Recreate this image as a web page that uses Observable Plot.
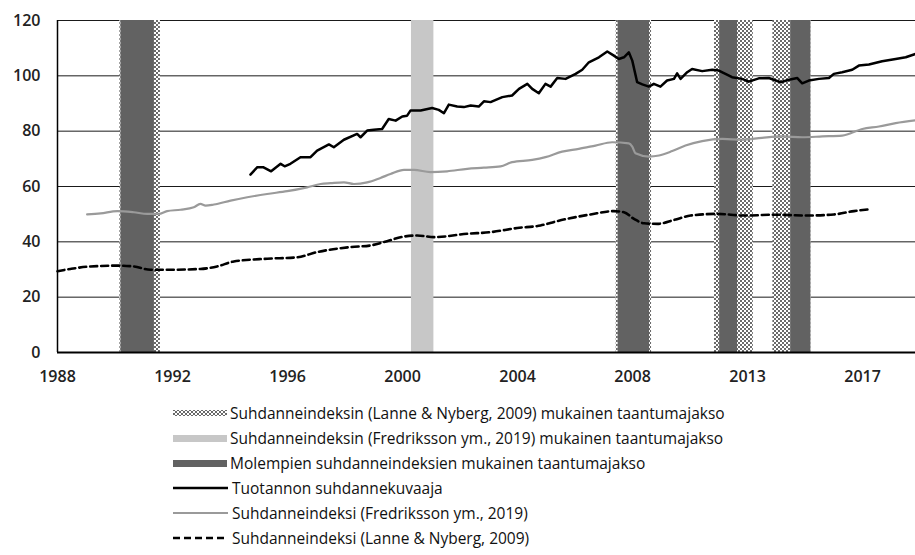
<!DOCTYPE html>
<html><head><meta charset="utf-8">
<script src="https://cdn.jsdelivr.net/npm/d3@7"></script>
<script src="https://cdn.jsdelivr.net/npm/@observablehq/plot@0.6"></script>
<style>
body{margin:0;background:#fff;font-family:"Open Sans",sans-serif;}
#chart{height:395px;}
#legend{position:relative;height:160px;}
.row{position:absolute;left:173px;display:flex;align-items:center;height:25px;font-size:15.5px;color:#111;white-space:nowrap;}
.row svg{display:block;}
</style></head><body>
<div id="chart"></div>
<div id="legend"></div>
<script>
// Tick positions and labels
const xTicks = [1988, 1992, 1996, 2000, 2004, 2008, 2012, 2016];
const xTickLabels = ["1988", "1992", "1996", "2000", "2004", "2008", "2013", "2017"];
const yTicks = [0, 20, 40, 60, 80, 100, 120];

// Recession periods (axis years)
const lanneStart = [1990.17, 2007.43, 2010.85, 2012.88];
const lanneEnd   = [1991.58, 2008.66, 2012.2, 2014.2];
const fredStart  = [1990.21, 2000.31, 2007.5, 2011.03, 2013.5];
const fredEnd    = [1991.37, 2001.09, 2008.59, 2011.65, 2014.2];

// Tuotannon suhdannekuvaaja
const outputYears = [1994.71,1994.95,1995.15,1995.43,1995.76,1995.9,1996.1,1996.45,1996.8,1997.03,1997.44,1997.61,1997.96,1998.42,1998.54,1998.77,1999.0,1999.29,1999.52,1999.76,1999.99,2000.16,2000.28,2000.63,2001.03,2001.26,2001.44,2001.61,2001.9,2002.13,2002.37,2002.65,2002.83,2003.06,2003.47,2003.81,2004.05,2004.34,2004.51,2004.74,2004.97,2005.15,2005.38,2005.67,2006.02,2006.25,2006.48,2006.83,2007.12,2007.35,2007.52,2007.7,2007.87,2007.99,2008.16,2008.34,2008.57,2008.74,2008.97,2009.2,2009.44,2009.55,2009.67,2009.9,2010.07,2010.42,2010.77,2011.0,2011.23,2011.46,2011.81,2012.04,2012.39,2012.74,2013.15,2013.44,2013.73,2013.9,2014.13,2014.48,2014.83,2015.0,2015.29,2015.64,2015.87,2016.22,2016.68,2017.15,2017.5,2017.84];
const outputValues = [64.3,67.0,67.0,65.5,68.2,67.3,68.2,70.6,70.6,73.0,75.2,74.2,76.9,79.0,77.8,80.2,80.5,80.8,84.4,83.8,85.3,85.6,87.5,87.5,88.4,87.7,86.5,89.6,88.9,88.7,89.3,88.9,90.8,90.5,92.3,92.9,95.3,97.1,95.3,93.7,97.1,96.1,99.2,98.9,100.7,102.2,104.9,106.7,108.8,107.3,106.1,106.7,108.5,105.5,97.7,96.9,96.1,97.1,96.1,98.3,98.9,100.9,98.9,101.3,102.5,101.7,102.2,101.9,100.7,99.5,98.9,97.9,99.1,99.2,97.7,98.6,99.2,97.3,98.3,98.9,99.2,100.7,101.3,102.2,103.7,104.1,105.3,106.1,106.7,107.9];

// Suhdanneindeksi (Fredriksson ym., 2019)
const fredYears = [1989.03,1989.5,1990.08,1990.65,1991.12,1991.52,1991.81,1992.28,1992.74,1992.97,1993.15,1993.44,1994.02,1994.6,1995.29,1995.99,1996.68,1997.15,1997.5,1997.96,1998.31,1998.77,1999.23,1999.58,2000.05,2000.4,2000.97,2001.55,2002.25,2002.83,2003.41,2003.81,2004.51,2004.97,2005.55,2006.13,2006.71,2007.29,2007.87,2007.99,2008.1,2008.57,2008.92,2009.38,2009.84,2010.42,2011.12,2011.81,2012.5,2013.21,2013.9,2014.6,2015.29,2015.99,2016.57,2017.15,2017.84];
const fredValues = [49.9,50.3,51.1,50.7,50.1,50.1,51.1,51.6,52.5,53.7,53.1,53.5,54.9,56.1,57.3,58.3,59.7,60.9,61.2,61.5,60.9,61.5,63.1,64.5,66.0,66.0,65.2,65.5,66.4,66.8,67.3,68.8,69.6,70.6,72.6,73.6,74.8,76.0,75.6,74.4,72.0,70.8,71.2,72.8,74.8,76.4,77.2,76.9,77.6,78.1,77.8,78.1,78.4,80.8,81.7,82.9,83.9];

// Suhdanneindeksi (Lanne & Nyberg, 2009)
const lanneYears = [1988.0,1988.45,1989.15,1990.08,1990.65,1991.23,1991.81,1992.97,1993.55,1994.13,1995.29,1996.33,1997.03,1998.19,1998.89,1999.35,2000.05,2000.51,2001.09,2002.25,2003.06,2003.99,2004.8,2005.38,2006.54,2007.35,2007.7,2008.05,2008.4,2008.86,2009.44,2010.02,2010.95,2011.88,2012.92,2014.08,2015.0,2015.7,2016.28];
const lanneValues = [29.4,30.2,31.1,31.4,31.1,29.9,29.9,30.2,31.1,32.9,33.9,34.4,36.3,38.1,38.7,39.9,41.9,42.3,41.7,42.9,43.5,45.0,45.9,47.5,49.9,51.1,50.7,48.3,46.7,46.5,47.9,49.5,50.1,49.5,49.8,49.5,49.9,51.1,51.8];

const legendLabels = [
  "Suhdanneindeksin (Lanne & Nyberg, 2009) mukainen taantumajakso",
  "Suhdanneindeksin (Fredriksson ym., 2019) mukainen taantumajakso",
  "Molempien suhdanneindeksien mukainen taantumajakso",
  "Tuotannon suhdannekuvaaja",
  "Suhdanneindeksi (Fredriksson ym., 2019)",
  "Suhdanneindeksi (Lanne & Nyberg, 2009)"
];

const toRows = (xs, ys) => xs.map((x, i) => ({x, y: ys[i]}));
const toPeriods = (s, e) => s.map((a, i) => ({s: a, e: e[i]}));
const lannePeriods = toPeriods(lanneStart, lanneEnd);
const fredPeriods = toPeriods(fredStart, fredEnd);
const bothPeriods = [];
lannePeriods.forEach(a => fredPeriods.forEach(b => {
  const s = Math.max(a.s, b.s), e = Math.min(a.e, b.e);
  if (s < e) bothPeriods.push({s, e});
}));

const DARK = "#626262", LIGHT = "#c7c7c7", GRAY = "#9a9a9a";

const chart = Plot.plot({
  width: 915, height: 395,
  marginLeft: 57, marginRight: 0, marginTop: 20, marginBottom: 43,
  style: {fontFamily: "'Open Sans', sans-serif", fontSize: "16px", color: "#222", background: "#fff"},
  x: {type: "linear", domain: [1988, 2017.84], axis: null},
  y: {domain: [0, 120], axis: null},
  marks: [
    Plot.ruleY(yTicks, {stroke: "#1a1a1a", strokeWidth: 1}),
    Plot.rect(lannePeriods, {x1: "s", x2: "e", fill: "url(#checker)"}),
    Plot.rect(fredPeriods, {x1: "s", x2: "e", fill: LIGHT}),
    Plot.rect(bothPeriods, {x1: "s", x2: "e", fill: DARK}),
    Plot.ruleY([0], {stroke: "#000", strokeWidth: 2}),
    Plot.ruleX([1988], {stroke: "#000", strokeWidth: 1.5}),
    Plot.line(toRows(fredYears, fredValues), {x: "x", y: "y", stroke: GRAY, strokeWidth: 2.2, curve: "monotone-x"}),
    Plot.line(toRows(lanneYears, lanneValues), {x: "x", y: "y", stroke: "#000", strokeWidth: 2.6, strokeDasharray: "7,4", curve: "monotone-x"}),
    Plot.line(toRows(outputYears, outputValues), {x: "x", y: "y", stroke: "#000", strokeWidth: 2.5}),
    Plot.axisY(yTicks, {tickSize: 0, tickPadding: 17, fontSize: 16, fontWeight: 600, fill: "#222", label: null}),
    Plot.axisX(xTicks, {tickSize: 0, tickPadding: 18, fontSize: 16, fontWeight: 600, fill: "#222", label: null,
      tickFormat: (d) => xTickLabels[xTicks.indexOf(d)]})
  ]
});

const defs = d3.select(chart).insert("defs", ":first-child");
const pat = defs.append("pattern").attr("id", "checker").attr("patternUnits", "userSpaceOnUse").attr("width", 4).attr("height", 4);
pat.append("rect").attr("width", 4).attr("height", 4).attr("fill", "#fff");
pat.append("rect").attr("width", 2).attr("height", 2).attr("fill", "#6a6a6a");
pat.append("rect").attr("x", 2).attr("y", 2).attr("width", 2).attr("height", 2).attr("fill", "#6a6a6a");
document.getElementById("chart").appendChild(chart);

// Legend
const legend = document.getElementById("legend");
const swatches = [
  `<svg width="57" height="8"><defs><pattern id="checkerL" patternUnits="userSpaceOnUse" width="4" height="4"><rect width="4" height="4" fill="#fff"/><rect width="2" height="2" fill="#6a6a6a"/><rect x="2" y="2" width="2" height="2" fill="#6a6a6a"/></pattern></defs><rect x="0" y="1" width="54" height="6" fill="url(#checkerL)"/></svg>`,
  `<svg width="57" height="8"><rect x="0" y="1" width="54" height="7" fill="${LIGHT}"/></svg>`,
  `<svg width="57" height="8"><rect x="0" y="1" width="54" height="7" fill="${DARK}"/></svg>`,
  `<svg width="59" height="6"><line x1="0" x2="55" y1="3" y2="3" stroke="#000" stroke-width="2.5"/></svg>`,
  `<svg width="59" height="6"><line x1="0" x2="55" y1="3" y2="3" stroke="${GRAY}" stroke-width="2.2"/></svg>`,
  `<svg width="59" height="6"><line x1="0" x2="55" y1="3" y2="3" stroke="#000" stroke-width="2.5" stroke-dasharray="7,4"/></svg>`
];
legendLabels.forEach((t, i) => {
  const row = document.createElement("div");
  row.className = "row";
  row.style.top = (5.5 + 25 * i) + "px";
  row.innerHTML = swatches[i];
  const span = document.createElement("span");
  span.textContent = t;
  row.appendChild(span);
  legend.appendChild(row);
});
</script>
</body></html>
